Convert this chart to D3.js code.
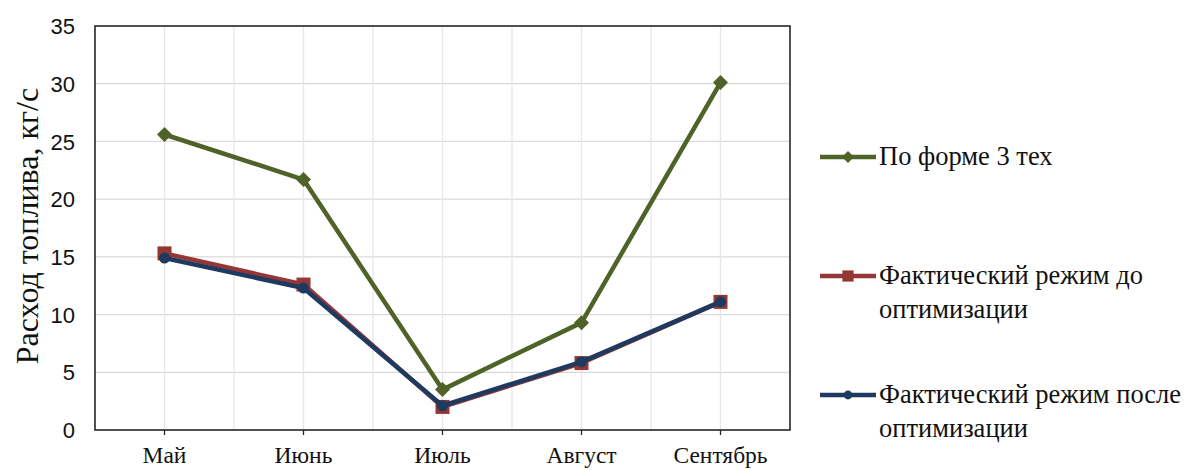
<!DOCTYPE html>
<html><head><meta charset="utf-8">
<script src="https://cdn.jsdelivr.net/npm/d3@7"></script>
<style>body{margin:0;background:#fff}</style>
</head><body>
<svg id="c" width="1197" height="470"></svg>
<script>
const categories = ["Май","Июнь","Июль","Август","Сентябрь"];
const seriesNames = ["По форме 3 тех","Фактический режим до оптимизации","Фактический режим после оптимизации"];
const formaValues = [25.6, 21.7, 3.5, 9.3, 30.1];
const beforeValues = [15.3, 12.6, 2.0, 5.8, 11.1];
const afterValues = [14.9, 12.3, 2.1, 5.9, 11.1];
const yTicks = [0,5,10,15,20,25,30,35];
const legendLines = [["По форме 3 тех"],["Фактический режим до","оптимизации"],["Фактический режим после","оптимизации"]];

const svg = d3.select("#c");
const L=95, R=790, T=26, B=430;
const x = d3.scaleBand().domain(categories).range([L,R]);
const y = d3.scaleLinear().domain([0,35]).range([B,T]);
const cx = c => x(c)+x.bandwidth()/2;
const serif = "Liberation Serif, Times New Roman, serif";

// grid
const g = svg.append("g");
yTicks.forEach(t=>{ if(t>0&&t<35) g.append("line").attr("x1",L).attr("x2",R).attr("y1",y(t)).attr("y2",y(t)).attr("stroke","#d9d9d9").attr("stroke-width",1.3);});
categories.forEach(c=>{
  g.append("line").attr("x1",cx(c)).attr("x2",cx(c)).attr("y1",T).attr("y2",B).attr("stroke","#e6e6e6").attr("stroke-width",1.3);
  if(x(c)>L) g.append("line").attr("x1",x(c)).attr("x2",x(c)).attr("y1",T).attr("y2",B).attr("stroke","#e6e6e6").attr("stroke-width",1.3);
});
// frame
svg.append("rect").attr("x",L).attr("y",T).attr("width",R-L).attr("height",B-T).attr("fill","none").attr("stroke","#262626").attr("stroke-width",1.6);

// y axis labels
const ya = svg.append("g").attr("transform",`translate(${L},0)`).call(d3.axisLeft(y).tickValues(yTicks).tickSize(0).tickPadding(20));
ya.select(".domain").remove();
ya.selectAll("text").attr("font-family","Liberation Sans, Arial, sans-serif").attr("font-size",22).attr("fill","#111").attr("dy","0.35em");

// x axis
const xa = svg.append("g").attr("transform",`translate(0,${B})`).call(d3.axisBottom(x).tickSize(5).tickPadding(11));
xa.select(".domain").remove();
xa.selectAll("line").attr("stroke","#262626").attr("stroke-width",1.3);
xa.selectAll("text").attr("font-family",serif).attr("font-size",23.5).attr("fill","#111");

// y title
svg.append("text").attr("transform",`translate(38,226) rotate(-90)`).attr("text-anchor","middle")
  .attr("font-family",serif).attr("font-size",32).attr("fill","#111").text("Расход топлива, кг/с");

const series = [
  {name:seriesNames[0], vals:formaValues, color:"#4f6228", marker:"diamond"},
  {name:seriesNames[1], vals:beforeValues, color:"#953735", marker:"square"},
  {name:seriesNames[2], vals:afterValues, color:"#1f3a60", marker:"circle"}
];
const line = d3.line().x((d,i)=>cx(categories[i])).y(d=>y(d));
function marker(sel, type, color, px, py, s){
  if(type==="diamond") sel.append("path").attr("d",`M${px},${py-7.5*s}L${px+7.5*s},${py}L${px},${py+7.5*s}L${px-7.5*s},${py}Z`).attr("fill",color);
  else if(type==="square") sel.append("rect").attr("x",px-7*s).attr("y",py-7*s).attr("width",14*s).attr("height",14*s).attr("fill",color);
  else sel.append("circle").attr("cx",px).attr("cy",py).attr("r",5.5*s).attr("fill",color);
}
series.forEach(s=>{
  svg.append("path").datum(s.vals).attr("d",line).attr("fill","none").attr("stroke",s.color).attr("stroke-width",4.5).attr("stroke-linejoin","round");
  s.vals.forEach((v,i)=>marker(svg,s.marker,s.color,cx(categories[i]),y(v),1));
});

// legend
const legY = [157, 276, 395];
series.forEach((s,k)=>{
  const ly = legY[k];
  svg.append("line").attr("x1",820).attr("x2",876).attr("y1",ly).attr("y2",ly).attr("stroke",s.color).attr("stroke-width",4.5);
  marker(svg,s.marker,s.color,848,ly,0.8);
  legendLines[k].forEach((t,j)=>{
    svg.append("text").attr("x",879).attr("y",ly+8+j*34).attr("font-family",serif).attr("font-size",26.5).attr("fill","#111").text(t);
  });
});
</script>
</body></html>
